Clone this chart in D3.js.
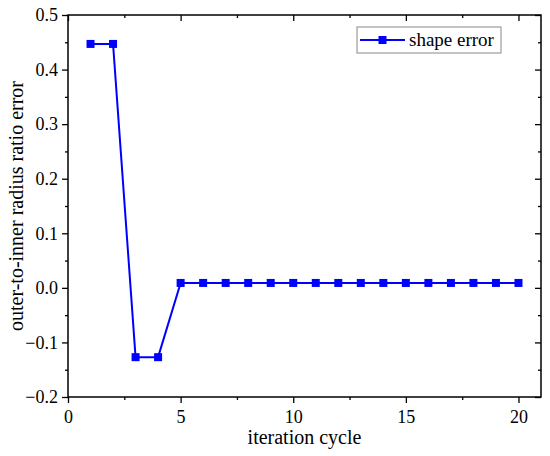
<!DOCTYPE html>
<html>
<head>
<meta charset="utf-8">
<script src="https://cdn.jsdelivr.net/npm/d3@7"></script>
<style>
  body { margin: 0; background: #fff; }
</style>
</head>
<body>
<div id="chart"></div>
<script>
// Data
var cycles = [1, 2, 3, 4, 5, 6, 7, 8, 9, 10, 11, 12, 13, 14, 15, 16, 17, 18, 19, 20];
var shapeError = [0.447, 0.447, -0.127, -0.127, 0.009, 0.009, 0.009, 0.009, 0.009, 0.009,
                  0.009, 0.009, 0.009, 0.009, 0.009, 0.009, 0.009, 0.009, 0.009, 0.009];
var xTicks = [0, 5, 10, 15, 20];
var yTicks = [-0.2, -0.1, 0.0, 0.1, 0.2, 0.3, 0.4, 0.5];
var seriesName = "shape error";

var fontFamily = "'Liberation Serif', 'Times New Roman', serif";

var svgWidth = 550;
var svgHeight = 456;
var margin = { top: 15, right: 9, bottom: 59, left: 68 };
var width = svgWidth - margin.left - margin.right;
var height = svgHeight - margin.top - margin.bottom;

var svg = d3.select("#chart").append("svg")
    .attr("width", svgWidth)
    .attr("height", svgHeight)
    .style("font-family", fontFamily);

var chartGroup = svg.append("g")
    .attr("transform", `translate(${margin.left}, ${margin.top})`);

var x = d3.scaleLinear().domain([0, 21]).range([0, width]);
var y = d3.scaleLinear().domain([-0.2, 0.5]).range([height, 0]);

var xMinor = d3.range(2.5, 21, 5);
var yMinor = d3.range(-0.15, 0.5, 0.1);

// Axes: outward ticks on left/bottom, inward mirrored ticks on top/right
function styleAxis(g) {
    g.attr("font-family", null).attr("font-size", null);
    g.select(".domain").remove();
    g.selectAll("line").attr("stroke", "#000").attr("stroke-width", 1.3);
    g.selectAll("text")
        .style("font-family", fontFamily)
        .style("font-size", "18px")
        .attr("fill", "#000");
}

chartGroup.append("g")
    .attr("transform", `translate(0, ${height})`)
    .call(d3.axisBottom(x).tickValues(xTicks).tickFormat(d3.format("d")).tickSize(6).tickPadding(7))
    .call(styleAxis);
chartGroup.append("g")
    .attr("transform", `translate(0, ${height})`)
    .call(d3.axisBottom(x).tickValues(xMinor).tickFormat("").tickSize(3))
    .call(styleAxis);

chartGroup.append("g")
    .call(d3.axisLeft(y).tickValues(yTicks).tickFormat(d3.format(".1f")).tickSize(6).tickPadding(4))
    .call(styleAxis);
chartGroup.append("g")
    .call(d3.axisLeft(y).tickValues(yMinor).tickFormat("").tickSize(3))
    .call(styleAxis);

chartGroup.append("g")
    .call(d3.axisBottom(x).tickValues(xTicks).tickFormat("").tickSize(6))
    .call(styleAxis);
chartGroup.append("g")
    .call(d3.axisBottom(x).tickValues(xMinor).tickFormat("").tickSize(3))
    .call(styleAxis);

chartGroup.append("g")
    .attr("transform", `translate(${width}, 0)`)
    .call(d3.axisLeft(y).tickValues(yTicks).tickFormat("").tickSize(6))
    .call(styleAxis);
chartGroup.append("g")
    .attr("transform", `translate(${width}, 0)`)
    .call(d3.axisLeft(y).tickValues(yMinor).tickFormat("").tickSize(3))
    .call(styleAxis);

// Frame
chartGroup.append("rect")
    .attr("width", width)
    .attr("height", height)
    .attr("fill", "none")
    .attr("stroke", "#000")
    .attr("stroke-width", 1.5);

// Series line + square markers
var points = cycles.map((c, i) => ({ x: c, y: shapeError[i] }));

chartGroup.append("path")
    .datum(points)
    .attr("fill", "none")
    .attr("stroke", "#0000ff")
    .attr("stroke-width", 2)
    .attr("d", d3.line().x(d => x(d.x)).y(d => y(d.y)));

var ms = 8;
chartGroup.selectAll(".marker")
    .data(points)
    .enter()
    .append("rect")
    .attr("class", "marker")
    .attr("x", d => x(d.x) - ms / 2)
    .attr("y", d => y(d.y) - ms / 2)
    .attr("width", ms)
    .attr("height", ms)
    .attr("fill", "#0000ff");

// Axis titles
svg.append("text")
    .attr("x", margin.left + width / 2)
    .attr("y", 444)
    .attr("text-anchor", "middle")
    .style("font-size", "20px")
    .text("iteration cycle");

svg.append("text")
    .attr("transform", `translate(23, ${margin.top + height / 2}) rotate(-90)`)
    .attr("text-anchor", "middle")
    .style("font-size", "20px")
    .text("outer-to-inner radius ratio error");

// Legend
var legend = svg.append("g").attr("transform", "translate(357, 27)");
legend.append("rect")
    .attr("width", 144)
    .attr("height", 26)
    .attr("fill", "#fff")
    .attr("stroke", "#888")
    .attr("stroke-width", 1);
legend.append("line")
    .attr("x1", 3).attr("x2", 48)
    .attr("y1", 13).attr("y2", 13)
    .attr("stroke", "#0000ff")
    .attr("stroke-width", 2);
legend.append("rect")
    .attr("x", 25.5 - ms / 2).attr("y", 13 - ms / 2)
    .attr("width", ms).attr("height", ms)
    .attr("fill", "#0000ff");
legend.append("text")
    .attr("x", 52)
    .attr("y", 19)
    .style("font-size", "19px")
    .text(seriesName);
</script>
</body>
</html>
